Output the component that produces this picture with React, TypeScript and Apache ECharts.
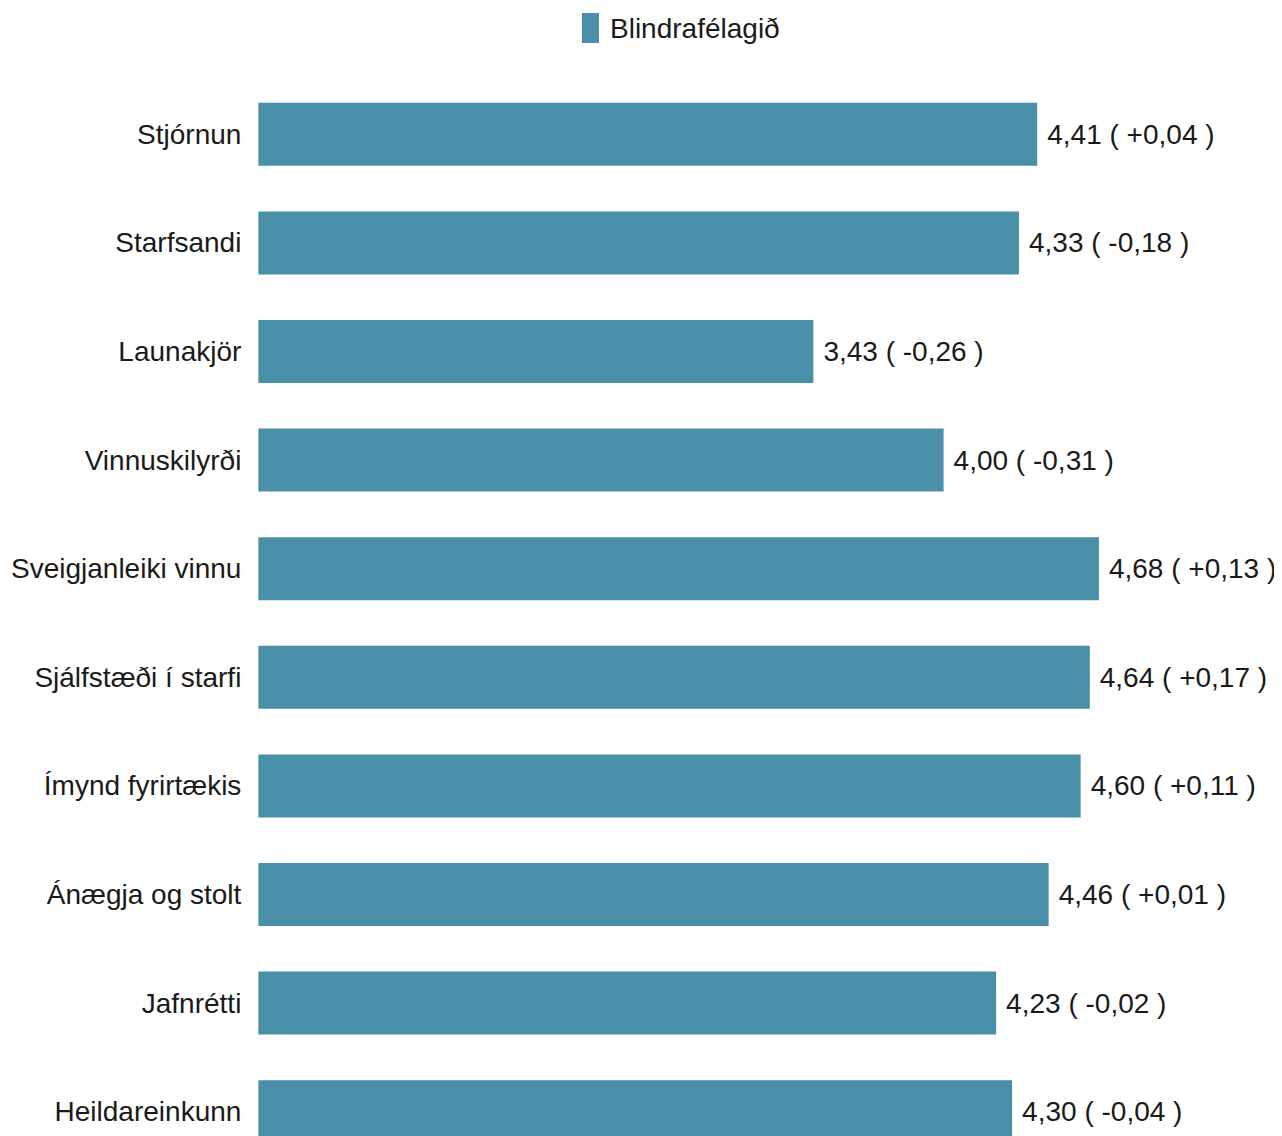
import React, { useEffect, useRef } from "react";
import * as echarts from "echarts";

const categories = [
  "Stjórnun",
  "Starfsandi",
  "Launakjör",
  "Vinnuskilyrði",
  "Sveigjanleiki vinnu",
  "Sjálfstæði í starfi",
  "Ímynd fyrirtækis",
  "Ánægja og stolt",
  "Jafnrétti",
  "Heildareinkunn",
];
const values = [4.41, 4.33, 3.43, 4.0, 4.68, 4.64, 4.6, 4.46, 4.23, 4.3];
const changes = [0.04, -0.18, -0.26, -0.31, 0.13, 0.17, 0.11, 0.01, -0.02, -0.04];
const seriesName = "Blindrafélagið";

const fmt = (v: number) => Math.abs(v).toFixed(2).replace(".", ",");

export default function App() {
  const ref = useRef<HTMLDivElement>(null);
  useEffect(() => {
    if (!ref.current) return;
    const chart = echarts.init(ref.current, null, { renderer: "svg" });
    const font = "'Liberation Sans', Arial, sans-serif";
    chart.setOption({
      animation: false,
      textStyle: { fontFamily: font },
      legend: {
        data: [seriesName],
        left: 569,
        top: 0,
        icon: "rect",
        itemWidth: 17,
        itemHeight: 30,
        textStyle: {
          fontSize: 28,
          color: "#1a1a1a",
          fontFamily: font,
          padding: [0, 0, 0, 6],
        },
      },
      grid: {
        left: 250,
        top: 72,
        width: 914,
        height: 1086,
        containLabel: false,
      },
      xAxis: {
        type: "value",
        min: 1,
        max: 5,
        show: false,
        splitLine: { show: false },
      },
      yAxis: {
        type: "category",
        data: categories,
        inverse: true,
        axisLine: { show: false },
        axisTick: { show: false },
        axisLabel: {
          fontSize: 28,
          color: "#1a1a1a",
          fontFamily: font,
          margin: 17,
          padding: [6, 0, 0, 0],
        },
      },
      series: [
        {
          name: seriesName,
          type: "bar",
          data: values,
          barWidth: 63,
          itemStyle: { color: "#498fa8" },
          label: {
            show: true,
            position: "right",
            distance: 10,
            fontSize: 28,
            color: "#1a1a1a",
            fontFamily: font,
            padding: [6, 0, 0, 0],
            formatter: (p: any) => {
              const d = changes[p.dataIndex];
              return `${fmt(p.value)} ( ${d >= 0 ? "+" : "-"}${fmt(d)} )`;
            },
          },
        },
      ],
    });
    return () => chart.dispose();
  }, []);
  return <div ref={ref} style={{ width: 1274, height: 1180 }} />;
}
